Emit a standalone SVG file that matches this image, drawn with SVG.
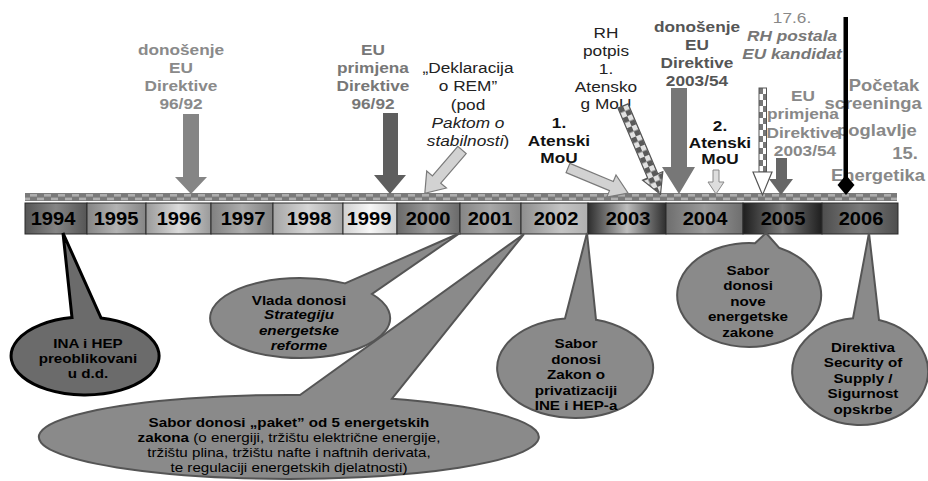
<svg xmlns="http://www.w3.org/2000/svg" width="928" height="481" viewBox="0 0 928 481">
<defs>
<style>
text{font-family:"Liberation Sans",Arial,sans-serif;text-anchor:middle;}
.b{font-weight:bold;}
.i{font-style:italic;}
.t15{font-size:15px;}
.yr{font-size:17.5px;font-weight:bold;fill:#000;}
.box{stroke:#2a2a2a;stroke-width:1;}
.cl{font-size:13.2px;font-weight:bold;fill:#000;}
.bub{fill:#8a8a8a;stroke:#555;stroke-width:2;}
</style>
<pattern id="strip" x="0" y="193" width="14" height="8" patternUnits="userSpaceOnUse">
<rect width="14" height="8" fill="#7a7a7a"/>
<rect x="2" y="1" width="7" height="2.6" fill="#aeaeae"/>
<rect x="9" y="4.6" width="7" height="2.6" fill="#aeaeae"/>
<rect x="-5" y="4.6" width="7" height="2.6" fill="#aeaeae"/>
</pattern>
<pattern id="chk" x="0" y="0" width="11" height="11" patternUnits="userSpaceOnUse">
<rect width="11" height="11" fill="#e2e2e2"/>
<rect width="5.5" height="5.5" fill="#5a5a5a"/>
<rect x="5.5" y="5.5" width="5.5" height="5.5" fill="#5a5a5a"/>
</pattern>
<pattern id="str" x="759" y="88" width="8" height="12" patternUnits="userSpaceOnUse">
<rect width="8" height="12" fill="#fff"/>
<rect width="4" height="6" fill="#777"/>
<rect x="4" y="6" width="4" height="6" fill="#777"/>
</pattern>
<linearGradient id="g94"><stop offset="0" stop-color="#555"/><stop offset=".5" stop-color="#858585"/><stop offset="1" stop-color="#555"/></linearGradient>
<linearGradient id="g95"><stop offset="0" stop-color="#858585"/><stop offset=".5" stop-color="#b3b3b3"/><stop offset="1" stop-color="#858585"/></linearGradient>
<linearGradient id="g96"><stop offset="0" stop-color="#9a9a9a"/><stop offset=".5" stop-color="#dadada"/><stop offset="1" stop-color="#9a9a9a"/></linearGradient>
<linearGradient id="g97"><stop offset="0" stop-color="#808080"/><stop offset=".5" stop-color="#adadad"/><stop offset="1" stop-color="#808080"/></linearGradient>
<linearGradient id="g98"><stop offset="0" stop-color="#a5a5a5"/><stop offset=".5" stop-color="#d6d6d6"/><stop offset="1" stop-color="#a5a5a5"/></linearGradient>
<linearGradient id="g99"><stop offset="0" stop-color="#d0d0d0"/><stop offset=".5" stop-color="#f7f7f7"/><stop offset="1" stop-color="#cfcfcf"/></linearGradient>
<linearGradient id="g00"><stop offset="0" stop-color="#6a6a6a"/><stop offset=".5" stop-color="#9a9a9a"/><stop offset="1" stop-color="#6a6a6a"/></linearGradient>
<linearGradient id="g01"><stop offset="0" stop-color="#858585"/><stop offset=".5" stop-color="#a8a8a8"/><stop offset="1" stop-color="#858585"/></linearGradient>
<linearGradient id="g02"><stop offset="0" stop-color="#8e8e8e"/><stop offset=".6" stop-color="#c4c4c4"/><stop offset="1" stop-color="#b0b0b0"/></linearGradient>
<linearGradient id="g03"><stop offset="0" stop-color="#2e2e2e"/><stop offset=".5" stop-color="#bdbdbd"/><stop offset="1" stop-color="#2e2e2e"/></linearGradient>
<linearGradient id="g04"><stop offset="0" stop-color="#6e6e6e"/><stop offset=".5" stop-color="#9a9a9a"/><stop offset="1" stop-color="#6e6e6e"/></linearGradient>
<linearGradient id="g05"><stop offset="0" stop-color="#1e1e1e"/><stop offset=".5" stop-color="#7a7a7a"/><stop offset="1" stop-color="#1e1e1e"/></linearGradient>
<linearGradient id="g06"><stop offset="0" stop-color="#4e4e4e"/><stop offset=".5" stop-color="#7a7a7a"/><stop offset="1" stop-color="#4e4e4e"/></linearGradient>
</defs>
<rect width="928" height="481" fill="#fff"/>

<g id="timeline">
<rect class="box" x="25" y="203" width="62" height="31" fill="url(#g94)"/>
<rect class="box" x="87" y="203" width="59" height="31" fill="url(#g95)"/>
<rect class="box" x="146" y="203" width="65" height="31" fill="url(#g96)"/>
<rect class="box" x="211" y="203" width="62" height="31" fill="url(#g97)"/>
<rect class="box" x="273" y="203" width="70" height="31" fill="url(#g98)"/>
<rect class="box" x="343" y="203" width="54" height="31" fill="url(#g99)"/>
<rect class="box" x="397" y="203" width="63" height="31" fill="url(#g00)"/>
<rect class="box" x="460" y="203" width="61" height="31" fill="url(#g01)"/>
<rect class="box" x="521" y="203" width="67" height="31" fill="url(#g02)"/>
<rect class="box" x="588" y="203" width="78" height="31" fill="url(#g03)"/>
<rect class="box" x="666" y="203" width="77" height="31" fill="url(#g04)"/>
<rect class="box" x="743" y="203" width="79" height="31" fill="url(#g05)"/>
<rect class="box" x="822" y="203" width="76" height="31" fill="url(#g06)"/>
<text class="yr" transform="translate(53 0) scale(1.15 1)" x="0" y="225">1994</text>
<text class="yr" transform="translate(116 0) scale(1.15 1)" x="0" y="225">1995</text>
<text class="yr" transform="translate(179 0) scale(1.15 1)" x="0" y="225">1996</text>
<text class="yr" transform="translate(243 0) scale(1.15 1)" x="0" y="225">1997</text>
<text class="yr" transform="translate(309 0) scale(1.15 1)" x="0" y="225">1998</text>
<text class="yr" transform="translate(369 0) scale(1.15 1)" x="0" y="225">1999</text>
<text class="yr" transform="translate(428 0) scale(1.15 1)" x="0" y="225">2000</text>
<text class="yr" transform="translate(490 0) scale(1.15 1)" x="0" y="225">2001</text>
<text class="yr" transform="translate(556 0) scale(1.15 1)" x="0" y="225">2002</text>
<text class="yr" transform="translate(628 0) scale(1.15 1)" x="0" y="225">2003</text>
<text class="yr" transform="translate(705 0) scale(1.15 1)" x="0" y="225">2004</text>
<text class="yr" transform="translate(783 0) scale(1.15 1)" x="0" y="225">2005</text>
<text class="yr" transform="translate(861 0) scale(1.15 1)" x="0" y="225">2006</text>
<rect x="25" y="193" width="872" height="8" fill="url(#strip)"/>
</g>

<g id="lbl-don9692"><text class="t15 b" fill="#8a8a8a" transform="translate(181 0) scale(1.15 1)"><tspan x="0" y="55">donošenje</tspan><tspan x="0" y="73">EU</tspan><tspan x="0" y="91">Direktive</tspan><tspan x="0" y="109">96/92</tspan></text></g>
<g id="lbl-prim9692"><text class="t15 b" fill="#777" transform="translate(373 0) scale(1.15 1)"><tspan x="0" y="55">EU</tspan><tspan x="0" y="73">primjena</tspan><tspan x="0" y="91">Direktive</tspan><tspan x="0" y="109">96/92</tspan></text></g>
<g id="lbl-rem"><text class="t15" fill="#222" transform="translate(468 0) scale(1.15 1)"><tspan x="0" y="73">„Deklaracija</tspan><tspan x="0" y="91">o REM”</tspan><tspan x="0" y="110">(pod</tspan><tspan x="0" y="128" class="i">Paktom o</tspan><tspan x="0" y="146"><tspan class="i">stabilnosti</tspan>)</tspan></text></g>
<g id="lbl-atenski1"><text class="t15 b" fill="#111" transform="translate(559 0) scale(1.15 1)"><tspan x="0" y="128">1.</tspan><tspan x="0" y="146">Atenski</tspan><tspan x="0" y="163">MoU</tspan></text></g>
<g id="lbl-potpis"><text class="t15" fill="#222" transform="translate(606 0) scale(1.15 1)"><tspan x="0" y="38">RH</tspan><tspan x="0" y="56">potpis</tspan><tspan x="0" y="74">1.</tspan><tspan x="0" y="92">Atensko</tspan><tspan x="0" y="109">g MoU</tspan></text></g>
<g id="lbl-don200354"><text class="t15 b" fill="#555" transform="translate(697 0) scale(1.15 1)"><tspan x="0" y="32">donošenje</tspan><tspan x="0" y="50">EU</tspan><tspan x="0" y="68">Direktive</tspan><tspan x="0" y="86">2003/54</tspan></text></g>
<g id="lbl-atenski2"><text class="t15 b" fill="#111" transform="translate(720 0) scale(1.15 1)"><tspan x="0" y="131">2.</tspan><tspan x="0" y="148">Atenski</tspan><tspan x="0" y="164.5">MoU</tspan></text></g>
<g id="lbl-kandidat"><text class="t15" fill="#888" transform="translate(792 0) scale(1.15 1)"><tspan x="0" y="23">17.6.</tspan><tspan x="0" y="41" class="b i" fill="#777">RH postala</tspan><tspan x="0" y="59" class="b i" fill="#777">EU kandidat</tspan></text></g>
<g id="lbl-prim200354"><text class="t15 b" fill="#888" transform="translate(803 0) scale(1.15 1)"><tspan x="0" y="101">EU</tspan><tspan x="0" y="119">primjena</tspan><tspan x="0" y="138">Direktive</tspan><tspan x="1.7" y="156">2003/54</tspan></text></g>
<g id="lbl-screening"><text class="b" fill="#888" font-size="16" transform="translate(878 0) scale(1.15 1)"><tspan x="5.2" y="91">Početak</tspan><tspan x="-4.3" y="109">screeninga</tspan><tspan x="-0.9" y="136">poglavlje</tspan><tspan x="23.5" y="159">15.</tspan><tspan x="0" y="181">Energetika</tspan></text></g>

<g id="connectors">
<polygon points="183,114 199,114 199,177 207,177 191,194 175,177 183,177" fill="#858585"/>
<polygon points="383,113 398,113 398,175 406,175 390,194 374,175 383,175" fill="#5e5e5e"/>
<path transform="translate(462,150) rotate(130.7)" d="M0,-5.5 L39,-5.5 L39,-13 L57,0 L39,13 L39,5.5 L0,5.5 Z" fill="#d2d2d2" stroke="#7a7a7a" stroke-width="1.2"/>
<path transform="translate(568,168) rotate(22.6)" d="M0,-5 L47,-5 L47,-12 L65,0 L47,12 L47,5 L0,5 Z" fill="#d2d2d2" stroke="#7a7a7a" stroke-width="1.2"/>
<path transform="translate(623,106) rotate(67)" d="M0,-5.5 L76,-5.5 L76,-11 L96,0 L76,11 L76,5.5 L0,5.5 Z" fill="url(#chk)" stroke="#555" stroke-width="1.2"/>
<polygon points="671,88 687,88 687,167 695,167 679,194 662,167 671,167" fill="#777"/>
<polygon points="713,170 719,170 719,182 724,182 716,194 708,182 713,182" fill="#ddd" stroke="#888" stroke-width="1"/>
<rect x="759" y="88" width="7.5" height="84" fill="url(#str)" stroke="#555" stroke-width="1"/>
<polygon points="753,172 772,172 762.5,195" fill="#fff" stroke="#555" stroke-width="1.2"/>
<polygon points="776,158 787,158 787,179 793,179 781,195 769,179 776,179" fill="#666"/>
<rect x="843.5" y="17" width="4.5" height="165" fill="#000"/>
<polygon points="846,175 854.5,185 846,195 837.5,185" fill="#000"/>
</g>

<g id="bub-ina">
<path d="M72,317.6 L63,233 L101,317.9 A74,39 0 1 1 72,317.6 Z" fill="#6b6b6b" stroke="#000" stroke-width="3"/>
<text class="cl" font-size="12.8" transform="translate(88 0) scale(1.15 1)"><tspan x="0" y="348">INA i HEP</tspan><tspan x="0" y="363">preoblikovani</tspan><tspan x="0" y="378">u d.d.</tspan></text>
</g>
<g id="bub-vlada">
<path class="bub" d="M345,283.4 L460,233 L372,294 A90,40 0 1 1 345,283.4 Z"/>
<text class="cl" font-size="12.6" transform="translate(299 0) scale(1.15 1)"><tspan x="0" y="305">Vlada donosi</tspan><tspan x="0" y="319.5" class="i">Strategiju</tspan><tspan x="0" y="335" class="i">energetske</tspan><tspan x="0" y="350" class="i">reforme</tspan></text>
</g>
<g id="bub-paket">
<path class="bub" d="M300,395 L524,234 L392,398.7 A250,42 0 1 1 300,395 Z" fill="#8c8c8c"/>
<text font-size="13.2" fill="#000" transform="translate(289 0) scale(1.15 1)"><tspan x="0" y="427" class="b">Sabor donosi „paket” od 5 energetskih</tspan><tspan x="0" y="442"><tspan class="b">zakona</tspan> (o energiji, tržištu električne energije,</tspan><tspan x="0" y="457">tržištu plina, tržištu nafte i naftnih derivata,</tspan><tspan x="0" y="472">te regulaciji energetskih djelatnosti)</tspan></text>
</g>
<g id="bub-privat">
<path class="bub" d="M565,318.4 L587,233 L596,319.8 A78,50 0 1 1 565,318.4 Z"/>
<text class="cl" transform="translate(576 0) scale(1.15 1)"><tspan x="0" y="348.5">Sabor</tspan><tspan x="0" y="364">donosi</tspan><tspan x="0" y="379.5">Zakon o</tspan><tspan x="0" y="395">privatizaciji</tspan><tspan x="0" y="410.5">INE i HEP-a</tspan></text>
</g>
<g id="bub-nove">
<path class="bub" d="M755,243.2 L766,233 L779,247.7 A72,52 0 1 1 755,243.2 Z"/>
<text class="cl" transform="translate(748 0) scale(1.15 1)"><tspan x="0" y="275">Sabor</tspan><tspan x="0" y="290.5">donosi</tspan><tspan x="0" y="306">nove</tspan><tspan x="0" y="321.5">energetske</tspan><tspan x="0" y="337">zakone</tspan></text>
</g>
<g id="bub-direktiva">
<path class="bub" d="M853,318.3 L869,233 L879,320.1 A68,53.5 0 1 1 853,318.3 Z"/>
<text class="cl" transform="translate(863 0) scale(1.15 1)"><tspan x="0" y="352">Direktiva</tspan><tspan x="0" y="367.5">Security of</tspan><tspan x="0" y="383">Supply /</tspan><tspan x="0" y="398.5">Sigurnost</tspan><tspan x="0" y="414">opskrbe</tspan></text>
</g>
</svg>
